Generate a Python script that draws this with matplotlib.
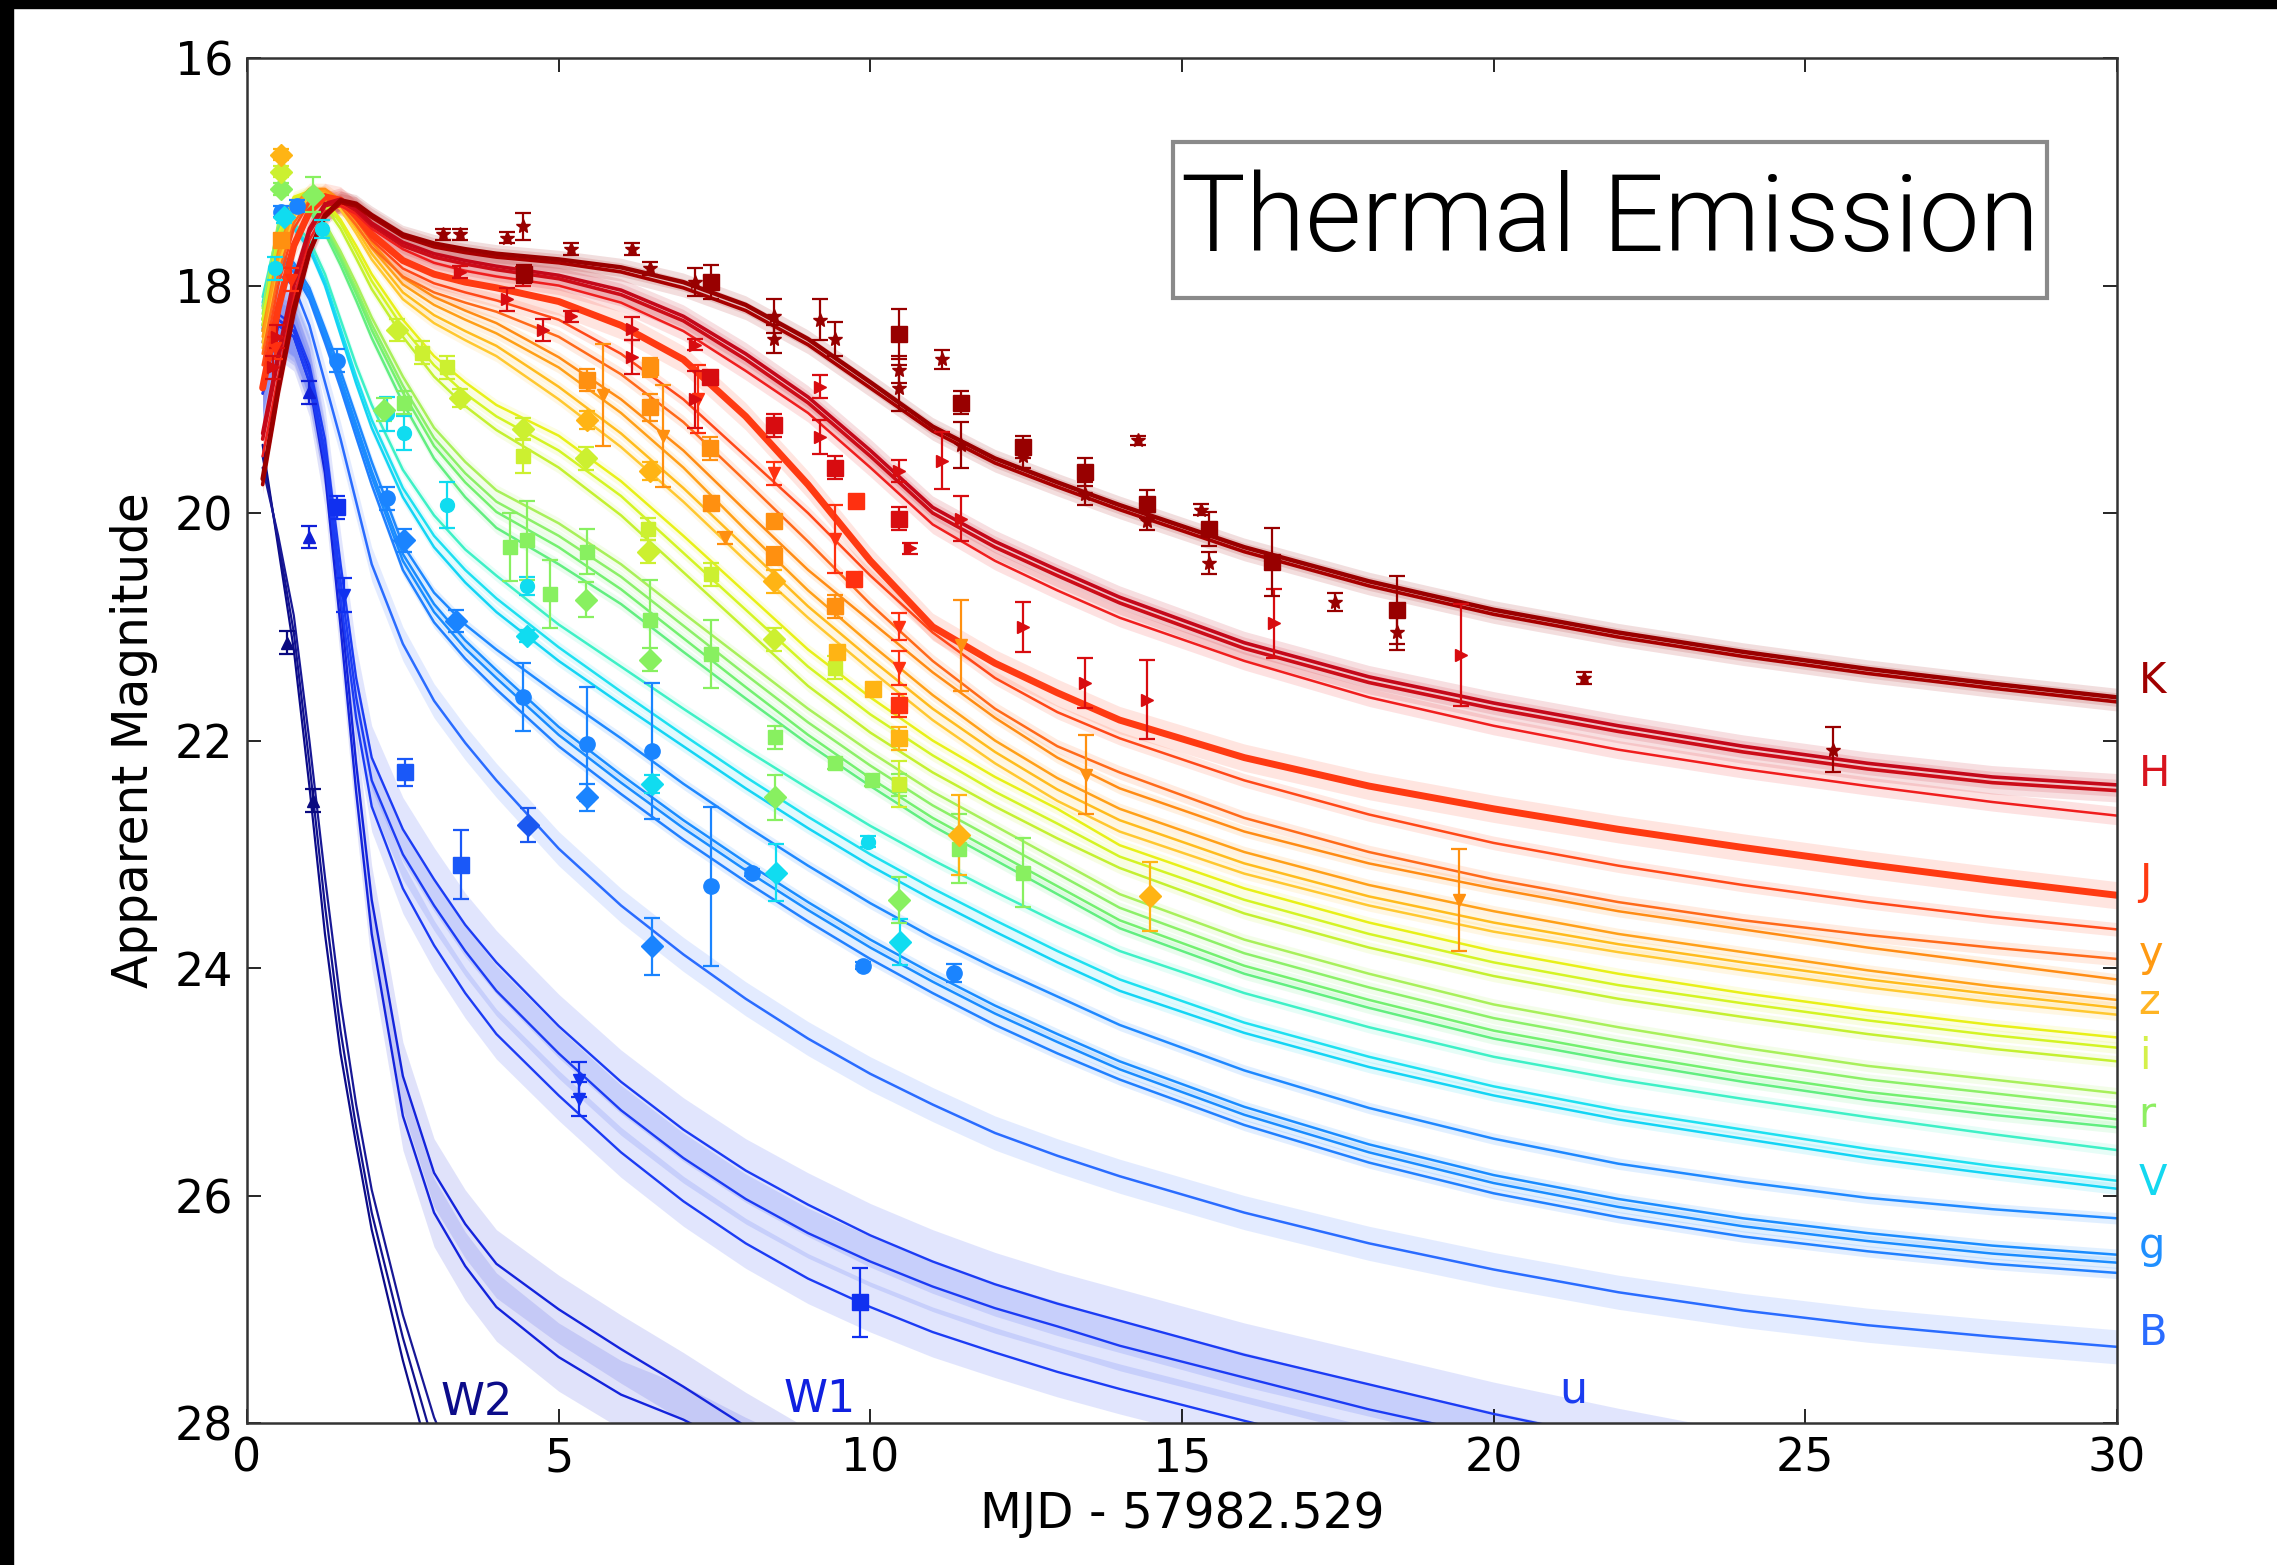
import numpy as np
import matplotlib.pyplot as plt
from matplotlib.patches import Rectangle

# model epochs (days)
t_mod = [0.25, 0.5, 0.75, 1.0, 1.25, 1.5, 1.75, 2.0, 2.5, 3.0,
         3.5, 4.0, 5.0, 6.0, 7.0, 8.0, 9.0, 10.0, 11.0, 12.0,
         13.0, 14.0, 16.0, 18.0, 20.0, 22.0, 24.0, 26.0, 28.0, 30.0]

# model light curves (apparent magnitude)
k_a = [19.70, 18.90, 18.20, 17.70, 17.38, 17.25, 17.28, 17.38, 17.55, 17.63,
       17.68, 17.72, 17.77, 17.84, 17.97, 18.17, 18.47, 18.85, 19.24, 19.52,
       19.73, 19.93, 20.30, 20.60, 20.85, 21.05, 21.22, 21.37, 21.50, 21.62]
k_b = [19.75, 18.95, 18.25, 17.72, 17.40, 17.27, 17.30, 17.40, 17.57, 17.66,
       17.71, 17.75, 17.80, 17.88, 18.02, 18.22, 18.52, 18.90, 19.28, 19.56,
       19.77, 19.97, 20.34, 20.64, 20.89, 21.09, 21.26, 21.41, 21.54, 21.66]
h_a = [19.30, 18.60, 17.95, 17.50, 17.28, 17.24, 17.32, 17.45, 17.62, 17.72,
       17.78, 17.83, 17.91, 18.04, 18.27, 18.60, 18.98, 19.45, 19.95, 20.25,
       20.50, 20.74, 21.14, 21.44, 21.67, 21.87, 22.05, 22.20, 22.32, 22.39]
h_b = [19.35, 18.65, 18.00, 17.53, 17.30, 17.26, 17.34, 17.47, 17.65, 17.75,
       17.81, 17.86, 17.94, 18.08, 18.31, 18.65, 19.03, 19.50, 20.00, 20.30,
       20.55, 20.79, 21.19, 21.49, 21.72, 21.92, 22.10, 22.25, 22.37, 22.44]
h_c = [19.50, 18.80, 18.10, 17.60, 17.35, 17.30, 17.37, 17.50, 17.68, 17.80,
       17.87, 17.92, 18.00, 18.15, 18.40, 18.75, 19.12, 19.60, 20.10, 20.42,
       20.68, 20.92, 21.30, 21.62, 21.87, 22.08, 22.25, 22.40, 22.54, 22.66]
j_a = [18.90, 18.20, 17.65, 17.35, 17.22, 17.25, 17.38, 17.55, 17.78, 17.90,
       17.97, 18.02, 18.14, 18.35, 18.65, 19.15, 19.75, 20.42, 21.00, 21.32,
       21.58, 21.82, 22.15, 22.40, 22.60, 22.78, 22.94, 23.09, 23.23, 23.36]
j_b = [18.70, 18.00, 17.50, 17.27, 17.20, 17.27, 17.42, 17.60, 17.85, 17.98,
       18.06, 18.13, 18.30, 18.60, 19.00, 19.50, 20.00, 20.55, 21.05, 21.45,
       21.75, 21.98, 22.35, 22.65, 22.90, 23.10, 23.27, 23.42, 23.55, 23.66]
j_c = [18.60, 17.90, 17.45, 17.25, 17.20, 17.30, 17.47, 17.66, 17.92, 18.06,
       18.15, 18.23, 18.45, 18.78, 19.20, 19.72, 20.25, 20.80, 21.30, 21.72,
       22.05, 22.28, 22.68, 22.98, 23.22, 23.42, 23.58, 23.71, 23.82, 23.92]
y_a = [18.40, 17.70, 17.30, 17.15, 17.15, 17.25, 17.42, 17.62, 17.93, 18.10,
       18.22, 18.33, 18.63, 19.00, 19.45, 19.98, 20.50, 20.95, 21.40, 21.80,
       22.15, 22.42, 22.80, 23.08, 23.30, 23.50, 23.66, 23.82, 23.96, 24.10]
y_b = [18.45, 17.75, 17.33, 17.17, 17.17, 17.28, 17.46, 17.67, 17.99, 18.17,
       18.30, 18.42, 18.72, 19.12, 19.60, 20.15, 20.68, 21.15, 21.60, 22.00,
       22.33, 22.60, 22.98, 23.27, 23.50, 23.70, 23.86, 24.02, 24.16, 24.28]
z_a = [18.50, 17.80, 17.36, 17.18, 17.18, 17.30, 17.50, 17.72, 18.06, 18.26,
       18.40, 18.53, 18.89, 19.30, 19.78, 20.30, 20.82, 21.28, 21.72, 22.10,
       22.43, 22.70, 23.08, 23.37, 23.60, 23.79, 23.95, 24.10, 24.23, 24.35]
z_b = [18.55, 17.85, 17.40, 17.20, 17.20, 17.33, 17.54, 17.77, 18.12, 18.33,
       18.48, 18.62, 19.00, 19.42, 19.90, 20.42, 20.92, 21.38, 21.82, 22.20,
       22.53, 22.80, 23.17, 23.45, 23.68, 23.86, 24.02, 24.17, 24.30, 24.41]
i_a = [18.30, 17.55, 17.22, 17.17, 17.25, 17.42, 17.65, 17.90, 18.30, 18.62,
       18.85, 19.05, 19.32, 19.72, 20.20, 20.70, 21.20, 21.62, 22.00, 22.32,
       22.60, 22.92, 23.30, 23.60, 23.85, 24.05, 24.22, 24.37, 24.50, 24.61]
i_b = [18.35, 17.58, 17.24, 17.18, 17.27, 17.45, 17.70, 17.96, 18.37, 18.70,
       18.95, 19.15, 19.45, 19.85, 20.35, 20.85, 21.35, 21.77, 22.13, 22.45,
       22.73, 23.02, 23.40, 23.70, 23.95, 24.15, 24.31, 24.46, 24.59, 24.70]
i_c = [18.40, 17.62, 17.26, 17.20, 17.30, 17.50, 17.76, 18.03, 18.45, 18.80,
       19.06, 19.27, 19.60, 20.02, 20.52, 21.02, 21.52, 21.93, 22.28, 22.58,
       22.86, 23.12, 23.52, 23.82, 24.07, 24.27, 24.43, 24.58, 24.71, 24.82]
r_a = [18.20, 17.45, 17.25, 17.28, 17.45, 17.70, 17.98, 18.28, 18.80, 19.25,
       19.55, 19.80, 20.09, 20.45, 20.88, 21.30, 21.72, 22.10, 22.45, 22.75,
       23.05, 23.35, 23.75, 24.05, 24.32, 24.52, 24.70, 24.86, 24.98, 25.10]
r_b = [18.25, 17.48, 17.27, 17.30, 17.48, 17.74, 18.03, 18.34, 18.88, 19.34,
       19.65, 19.90, 20.20, 20.56, 20.99, 21.42, 21.84, 22.22, 22.57, 22.87,
       23.17, 23.47, 23.87, 24.17, 24.44, 24.64, 24.82, 24.98, 25.10, 25.22]
r_c = [18.30, 17.50, 17.28, 17.32, 17.50, 17.77, 18.07, 18.39, 18.94, 19.41,
       19.73, 19.99, 20.30, 20.67, 21.10, 21.53, 21.95, 22.33, 22.68, 22.98,
       23.28, 23.58, 23.98, 24.28, 24.55, 24.75, 24.93, 25.09, 25.21, 25.33]
r_d = [18.35, 17.52, 17.30, 17.35, 17.54, 17.82, 18.13, 18.46, 19.03, 19.52,
       19.86, 20.13, 20.45, 20.80, 21.22, 21.63, 22.03, 22.40, 22.75, 23.05,
       23.35, 23.65, 24.05, 24.35, 24.62, 24.82, 25.00, 25.16, 25.29, 25.40]
v_a = [18.10, 17.50, 17.45, 17.60, 17.90, 18.30, 18.70, 19.05, 19.62, 20.02,
       20.32, 20.55, 20.98, 21.35, 21.72, 22.08, 22.42, 22.75, 23.05, 23.33,
       23.60, 23.85, 24.22, 24.52, 24.78, 24.98, 25.15, 25.31, 25.46, 25.60]
v_b = [18.15, 17.53, 17.48, 17.65, 17.96, 18.38, 18.80, 19.18, 19.78, 20.20,
       20.50, 20.75, 21.18, 21.57, 21.95, 22.32, 22.67, 23.00, 23.30, 23.58,
       23.85, 24.10, 24.48, 24.78, 25.04, 25.25, 25.42, 25.59, 25.74, 25.87]
v_c = [18.18, 17.55, 17.50, 17.68, 18.00, 18.43, 18.86, 19.25, 19.86, 20.30,
       20.61, 20.87, 21.30, 21.68, 22.05, 22.42, 22.77, 23.10, 23.40, 23.68,
       23.95, 24.20, 24.57, 24.87, 25.12, 25.33, 25.50, 25.67, 25.81, 25.94]
g_a = [18.30, 17.72, 17.80, 18.02, 18.38, 18.75, 19.15, 19.55, 20.28, 20.70,
       20.98, 21.20, 21.60, 21.98, 22.38, 22.75, 23.10, 23.43, 23.73, 24.00,
       24.25, 24.50, 24.90, 25.23, 25.50, 25.72, 25.88, 26.02, 26.12, 26.20]
g_b = [18.35, 17.75, 17.83, 18.06, 18.43, 18.81, 19.22, 19.63, 20.36, 20.80,
       21.12, 21.38, 21.88, 22.30, 22.70, 23.07, 23.42, 23.75, 24.05, 24.33,
       24.58, 24.82, 25.22, 25.55, 25.82, 26.03, 26.20, 26.33, 26.44, 26.52]
g_c = [18.38, 17.77, 17.85, 18.08, 18.46, 18.85, 19.27, 19.68, 20.42, 20.87,
       21.19, 21.45, 21.95, 22.37, 22.77, 23.14, 23.49, 23.82, 24.12, 24.40,
       24.65, 24.89, 25.29, 25.62, 25.89, 26.10, 26.27, 26.40, 26.51, 26.59]
g_d = [18.40, 17.80, 17.88, 18.12, 18.50, 18.90, 19.33, 19.75, 20.50, 20.96,
       21.28, 21.55, 22.05, 22.47, 22.87, 23.24, 23.59, 23.92, 24.22, 24.50,
       24.75, 24.98, 25.38, 25.71, 25.98, 26.19, 26.36, 26.49, 26.60, 26.68]
b_a = [18.50, 17.90, 18.00, 18.35, 18.85, 19.35, 19.90, 20.45, 21.15, 21.65,
       22.02, 22.35, 22.95, 23.45, 23.88, 24.27, 24.62, 24.93, 25.20, 25.45,
       25.65, 25.83, 26.15, 26.42, 26.65, 26.85, 27.01, 27.14, 27.24, 27.33]
u_a = [18.85, 18.25, 18.35, 18.70, 19.35, 20.45, 21.45, 22.15, 22.78, 23.22,
       23.62, 23.95, 24.51, 25.00, 25.42, 25.78, 26.08, 26.35, 26.58, 26.78,
       26.95, 27.10, 27.40, 27.66, 27.92, 28.15, 28.36, 28.55]
u_b = [18.90, 18.30, 18.40, 18.78, 19.45, 20.60, 21.62, 22.35, 23.00, 23.45,
       23.85, 24.20, 24.75, 25.25, 25.67, 26.03, 26.33, 26.58, 26.80, 26.99,
       27.15, 27.32, 27.60, 27.88, 28.12, 28.35]
u_c = [18.95, 18.35, 18.45, 18.85, 19.55, 20.75, 21.80, 22.58, 23.30, 23.80,
       24.22, 24.58, 25.12, 25.62, 26.05, 26.42, 26.73, 26.98, 27.20, 27.38,
       27.55, 27.70, 27.98, 28.25, 28.50]
w1_a = [18.90, 18.30, 18.40, 18.75, 19.50, 20.80, 22.20, 23.40, 24.95, 25.80,
        26.25, 26.60, 27.00, 27.35, 27.68, 28.03, 28.35, 28.62]
w1_b = [18.95, 18.35, 18.45, 18.85, 19.65, 21.00, 22.45, 23.70, 25.30, 26.15,
        26.62, 26.98, 27.42, 27.75, 27.97, 28.25, 28.50, 28.75]
w2_a = [19.40, 20.30, 21.20, 22.40, 23.70, 24.75, 25.55, 26.30, 27.45, 28.45]
w2_b = [19.50, 20.25, 21.05, 22.20, 23.45, 24.55, 25.40, 26.15, 27.25, 28.20]
w2_c = [19.60, 20.20, 20.90, 22.00, 23.20, 24.30, 25.20, 25.95, 27.05, 27.95, 28.60]

# observed photometry: epoch, magnitude, error
k_sq_t = [4.45, 7.45, 10.46, 11.46, 12.45, 13.45, 14.44, 15.44, 16.44, 18.45]
k_sq_m = [17.90, 17.97, 18.43, 19.03, 19.42, 19.64, 19.92, 20.14, 20.43, 20.85]
k_sq_e = [0.08, 0.15, 0.22, 0.10, 0.10, 0.12, 0.12, 0.15, 0.30, 0.30]
k_sm_t = [3.15, 3.42, 4.17, 4.43, 5.19, 6.18, 6.46, 7.18, 8.45, 8.45,
          9.19, 9.44, 10.46, 10.46, 11.15, 11.46, 12.45, 13.45, 14.30, 14.44,
          15.30, 15.44, 17.45, 18.45, 21.45, 25.45]
k_sm_m = [17.55, 17.55, 17.58, 17.48, 17.68, 17.68, 17.85, 17.97, 18.27, 18.47,
          18.30, 18.47, 18.74, 18.90, 18.65, 19.40, 19.50, 19.83, 19.36, 20.07,
          19.97, 20.44, 20.78, 21.05, 21.45, 22.08]
k_sm_e = [0.05, 0.05, 0.05, 0.12, 0.05, 0.05, 0.06, 0.12, 0.15, 0.12,
          0.18, 0.15, 0.12, 0.20, 0.08, 0.20, 0.10, 0.10, 0.04, 0.08,
          0.05, 0.10, 0.08, 0.15, 0.05, 0.20]

h_sq_t = [7.42, 8.45, 9.44, 10.46]
h_sq_m = [18.80, 19.23, 19.60, 20.05]
h_sq_e = [0.05, 0.10, 0.10, 0.10]
h_sm_t = [0.42, 0.48, 3.42, 4.17, 4.43, 4.75, 5.19, 6.18, 6.18, 7.18,
          7.18, 9.19, 9.19, 10.46, 10.63, 11.15, 11.46, 12.45, 13.45, 14.44,
          16.47, 19.48]
h_sm_m = [18.72, 18.45, 17.88, 18.12, 17.92, 18.39, 18.27, 18.38, 18.63, 18.52,
          19.00, 18.89, 19.33, 19.63, 20.31, 19.54, 20.05, 21.00, 21.49, 21.64,
          20.97, 21.25]
h_sm_e = [0.10, 0.10, 0.05, 0.10, 0.08, 0.10, 0.05, 0.10, 0.15, 0.05,
          0.25, 0.10, 0.15, 0.10, 0.05, 0.25, 0.20, 0.22, 0.22, 0.35,
          0.30, 0.45]

j_sq_t = [9.77, 9.74, 10.46]
j_sq_m = [19.89, 20.58, 21.69]
j_sq_e = [0.03, 0.05, 0.10]
j_sm_t = [0.45, 0.70, 7.23, 8.45, 9.44, 10.46, 10.46]
j_sm_m = [18.55, 17.95, 19.00, 19.65, 20.23, 21.00, 21.36]
j_sm_e = [0.10, 0.10, 0.30, 0.10, 0.30, 0.12, 0.15]

y_sq_t = [0.55, 5.46, 6.46, 6.46, 7.42, 7.45, 8.45, 8.45, 9.44]
y_sq_m = [17.60, 18.83, 18.72, 19.07, 19.43, 19.91, 20.07, 20.38, 20.82]
y_sq_e = [0.05, 0.10, 0.08, 0.12, 0.10, 0.05, 0.05, 0.08, 0.10]
y_sm_t = [5.71, 6.68, 7.67, 11.46, 13.46, 19.45]
y_sm_m = [18.96, 19.32, 20.22, 21.16, 22.30, 23.40]
y_sm_e = [0.45, 0.45, 0.05, 0.40, 0.35, 0.45]

z_dm_t = [0.55, 5.46, 6.46, 8.45, 11.43, 14.49]
z_dm_m = [16.85, 19.18, 19.63, 20.60, 22.83, 23.37]
z_dm_e = [0.05, 0.08, 0.08, 0.10, 0.35, 0.30]
z_sq_t = [9.47, 10.05, 10.46]
z_sq_m = [21.22, 21.55, 21.98]
z_sq_e = [0.05, 0.05, 0.10]

i_dm_t = [0.55, 2.40, 3.42, 4.43, 5.44, 6.43, 8.45]
i_dm_m = [17.00, 18.39, 18.99, 19.26, 19.52, 20.34, 21.11]
i_dm_e = [0.05, 0.10, 0.08, 0.10, 0.10, 0.10, 0.10]
i_sm_t = [2.80, 3.20, 4.43, 6.43, 7.45, 9.44, 10.46]
i_sm_m = [18.59, 18.72, 19.50, 20.14, 20.54, 21.36, 22.38]
i_sm_e = [0.10, 0.10, 0.15, 0.10, 0.10, 0.10, 0.20]

r_dm_t = [0.55, 1.05, 2.19, 5.44, 6.46, 8.47, 10.46]
r_dm_m = [17.15, 17.20, 19.09, 20.76, 21.29, 22.50, 23.40]
r_dm_e = [0.05, 0.15, 0.10, 0.15, 0.10, 0.20, 0.20]
r_sm_t = [2.51, 4.22, 4.49, 4.86, 5.46, 6.46, 7.45, 8.47, 9.44, 10.02, 10.46, 11.43, 12.45]
r_sm_m = [19.03, 20.30, 20.24, 20.71, 20.34, 20.94, 21.24, 21.97, 22.20, 22.35, 22.39, 22.95, 23.16]
r_sm_e = [0.10, 0.30, 0.35, 0.30, 0.20, 0.35, 0.30, 0.10, 0.05, 0.05, 0.10, 0.30, 0.30]

v_dm_t = [0.60, 4.49, 6.49, 8.48, 10.47]
v_dm_m = [17.40, 21.08, 22.38, 23.16, 23.77]
v_dm_e = [0.05, 0.05, 0.08, 0.25, 0.20]
v_sm_t = [0.45, 1.20, 2.24, 2.51, 3.20, 4.49, 9.97]
v_sm_m = [17.85, 17.50, 19.13, 19.30, 19.93, 20.64, 22.89]
v_sm_e = [0.10, 0.08, 0.15, 0.15, 0.20, 0.08, 0.05]

g_dm_t = [2.51, 3.36, 5.46, 6.49]
g_dm_m = [20.24, 20.95, 22.50, 23.81]
g_dm_e = [0.10, 0.10, 0.12, 0.25]
g_sm_t = [0.55, 0.80, 1.44, 2.24, 4.43, 5.46, 6.49, 7.45, 8.10, 9.88, 11.35]
g_sm_m = [17.35, 17.30, 18.66, 19.87, 21.62, 22.03, 22.09, 23.28, 23.16, 23.98, 24.04]
g_sm_e = [0.05, 0.05, 0.10, 0.10, 0.30, 0.50, 0.60, 0.70, 0.03, 0.03, 0.08]

b_sq_t = [2.53, 3.44]
b_sq_m = [22.28, 23.09]
b_sq_e = [0.12, 0.30]
b_dm_t = [4.50]
b_dm_m = [22.74]
b_dm_e = [0.15]

u_sq_t = [1.44, 9.83]
u_sq_m = [19.95, 26.94]
u_sq_e = [0.10, 0.30]
u_sm_t = [1.56, 5.33, 5.33]
u_sm_m = [20.72, 24.98, 25.15]
u_sm_e = [0.15, 0.15, 0.15]

w1_pt_t = [1.00, 1.00]
w1_pt_m = [18.94, 20.21]
w1_pt_e = [0.10, 0.10]
w2_pt_t = [0.64, 1.06]
w2_pt_m = [21.14, 22.53]
w2_pt_e = [0.10, 0.10]

band_names = ['K', 'H', 'J', 'y', 'z', 'i', 'r', 'V', 'g', 'B']
band_label_mag = [21.48, 22.29, 23.24, 23.88, 24.30, 24.78, 25.29, 25.89, 26.44, 27.21]
band_colors = ['#a00000', '#d8141e', '#ff3a12', '#ff9a12', '#ffb423',
               '#d4f04a', '#8eee62', '#14d8f0', '#2090ff', '#2a6cff']

# (curve, colour, line width, half-width of shaded band)
models = [
    (w2_a, '#0c0c8a', 1.6, 0.0), (w2_b, '#12128e', 1.6, 0.0), (w2_c, '#181896', 1.6, 0.0),
    (w1_a, '#1424dc', 1.7, 0.30), (w1_b, '#1424dc', 1.7, 0.30),
    (u_a, '#1c3cf4', 1.7, 0.28), (u_b, '#1c3cf4', 1.7, 0.22), (u_c, '#1c3cf4', 1.7, 0.22),
    (b_a, '#2a6cff', 1.8, 0.15),
    (g_a, '#1e88ff', 1.8, 0.05), (g_b, '#1a8cff', 1.8, 0.05),
    (g_c, '#1a8cff', 1.8, 0.05), (g_d, '#2080ff', 1.8, 0.05),
    (v_a, '#3ef0c6', 1.8, 0.05), (v_b, '#1ee0f0', 1.8, 0.05), (v_c, '#14d4f4', 1.8, 0.05),
    (r_a, '#a8f05a', 1.8, 0.05), (r_b, '#8cf068', 1.8, 0.05),
    (r_c, '#74f070', 1.8, 0.05), (r_d, '#62ee80', 1.8, 0.05),
    (i_a, '#e8f018', 1.8, 0.05), (i_b, '#d4f424', 1.8, 0.05), (i_c, '#c4f030', 1.8, 0.05),
    (z_a, '#ffbc1e', 1.8, 0.05), (z_b, '#ffc830', 1.8, 0.05),
    (y_a, '#ff8c14', 1.8, 0.05), (y_b, '#ffa018', 1.8, 0.05),
    (j_c, '#ff6a1a', 1.8, 0.06), (j_b, '#ff4818', 1.8, 0.06), (j_a, '#ff3a12', 5.0, 0.12),
    (h_c, '#f01e1e', 1.8, 0.08), (h_b, '#cc0c18', 2.6, 0.10), (h_a, '#c4081a', 2.6, 0.10),
    (k_b, '#a80000', 2.6, 0.08), (k_a, '#9a0000', 3.2, 0.08),
]

plt.rcParams['font.family'] = 'DejaVu Sans'
fig = plt.figure(figsize=(22.77, 15.65), dpi=100)
ax = fig.add_axes([0.1085, 0.0907, 0.8212, 0.8722])

for curve, col, lw, sh in models:
    tt = np.array(t_mod[:len(curve)])
    mm = np.array(curve)
    if sh > 0:
        ax.fill_between(tt, mm - sh, mm + sh, color=col, alpha=0.13, lw=0)
    ax.plot(tt, mm, color=col, lw=lw, solid_capstyle='round', solid_joinstyle='round')

point_sets = [
    (w2_pt_t, w2_pt_m, w2_pt_e, '#0a0a80', '^', 9),
    (w1_pt_t, w1_pt_m, w1_pt_e, '#1020d8', '^', 9),
    (u_sq_t, u_sq_m, u_sq_e, '#1030f0', 's', 11),
    (u_sm_t, u_sm_m, u_sm_e, '#1030f0', 'v', 8),
    (b_sq_t, b_sq_m, b_sq_e, '#1a58f8', 's', 11),
    (b_dm_t, b_dm_m, b_dm_e, '#1a58f0', 'D', 11),
    (g_dm_t, g_dm_m, g_dm_e, '#1a84ff', 'D', 11),
    (g_sm_t, g_sm_m, g_sm_e, '#1a84ff', 'o', 11),
    (v_dm_t, v_dm_m, v_dm_e, '#10dcf0', 'D', 11),
    (v_sm_t, v_sm_m, v_sm_e, '#10dcf0', 'o', 10),
    (r_dm_t, r_dm_m, r_dm_e, '#88f060', 'D', 11),
    (r_sm_t, r_sm_m, r_sm_e, '#88f060', 's', 10),
    (i_dm_t, i_dm_m, i_dm_e, '#ccf030', 'D', 11),
    (i_sm_t, i_sm_m, i_sm_e, '#ccf030', 's', 10),
    (z_dm_t, z_dm_m, z_dm_e, '#ffb414', 'D', 11),
    (z_sq_t, z_sq_m, z_sq_e, '#ffb414', 's', 11),
    (y_sq_t, y_sq_m, y_sq_e, '#ff9010', 's', 11),
    (y_sm_t, y_sm_m, y_sm_e, '#ff9010', 'v', 8),
    (j_sq_t, j_sq_m, j_sq_e, '#ff3010', 's', 11),
    (j_sm_t, j_sm_m, j_sm_e, '#ff3010', 'v', 8),
    (h_sq_t, h_sq_m, h_sq_e, '#d80c10', 's', 11),
    (h_sm_t, h_sm_m, h_sm_e, '#d80c10', '>', 8),
    (k_sq_t, k_sq_m, k_sq_e, '#980000', 's', 12),
    (k_sm_t, k_sm_m, k_sm_e, '#980000', '*', 10),
]

for tt, mm, ee, col, mk, ms in point_sets:
    ax.errorbar(tt, mm, yerr=ee, fmt=mk, ms=ms, color=col, mec=col,
                elinewidth=1.6, capsize=6, capthick=1.6, zorder=3)

ax.set_xlim(0, 30)
ax.set_ylim(28, 16)
ax.set_xticks([0, 5, 10, 15, 20, 25, 30])
ax.set_yticks([16, 18, 20, 22, 24, 26, 28])
ax.tick_params(direction='in', top=True, right=True, length=10, width=1.2,
               labelsize=33, pad=10)
for sp in ax.spines.values():
    sp.set_linewidth(1.8)
    sp.set_color('#333333')

ax.set_xlabel('MJD - 57982.529', fontsize=35, labelpad=6)
ax.set_ylabel('Apparent Magnitude', fontsize=35, labelpad=12)

# band names at the right edge
for name, mag, col in zip(band_names, band_label_mag, band_colors):
    ax.text(30.35, mag, name, color=col, fontsize=30, ha='left', va='center',
            clip_on=False)

ax.text(3.1, 27.93, 'W2', color='#0c0c8a', fontsize=32, ha='left', va='baseline')
ax.text(8.6, 27.90, 'W1', color='#1020e0', fontsize=32, ha='left', va='baseline')
ax.text(21.05, 27.82, 'u', color='#1a3cf0', fontsize=32, ha='left', va='baseline')

# boxed title
ax.add_patch(Rectangle((0.495, 0.8242), 0.4676, 0.1143, transform=ax.transAxes,
                       fill=True, facecolor='white', edgecolor='#8a8a8a', lw=3, zorder=5))
ax.text(0.7288, 0.8800, 'Thermal Emission', transform=ax.transAxes, fontsize=78,
        family=['Roboto', 'DejaVu Sans'], weight=300, ha='center', va='center',
        zorder=6)

# dark frame strips along the top and left edge
fig.add_artist(Rectangle((0, 1 - 8 / 1565), 1, 8 / 1565, transform=fig.transFigure,
                         color='black', zorder=10))
fig.add_artist(Rectangle((0, 0), 13 / 2277, 1, transform=fig.transFigure,
                         color='black', zorder=10))

fig.savefig('out.png', dpi=100)
